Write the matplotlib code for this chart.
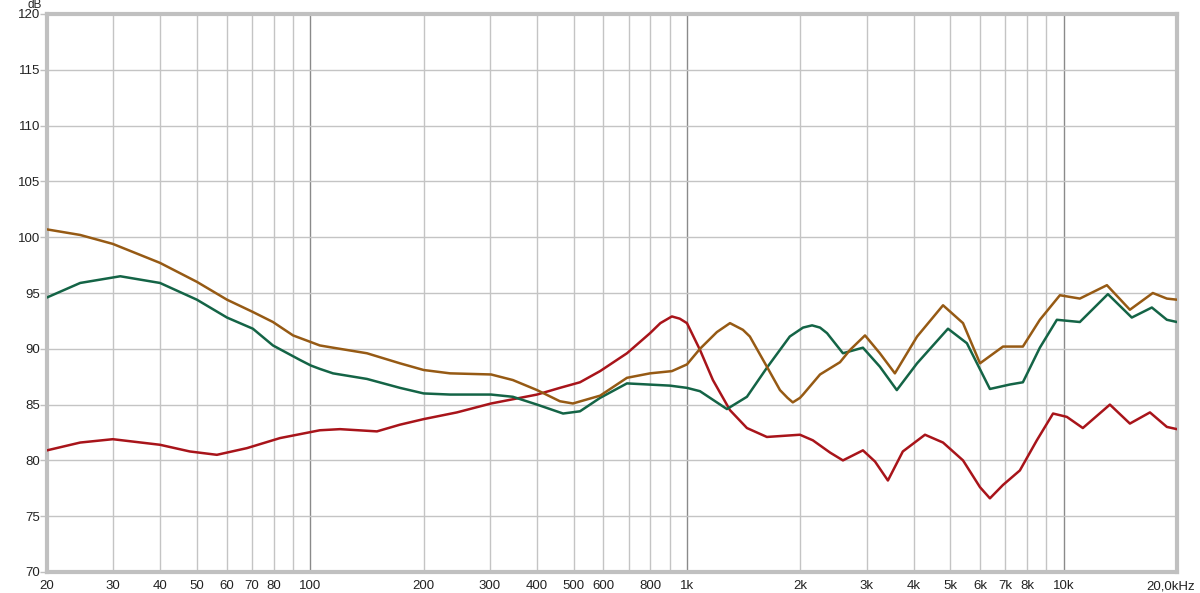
import matplotlib.pyplot as plt
import matplotlib.transforms as mtransforms
from matplotlib.ticker import FixedLocator, NullLocator

# frequency response readings (Hz, dB)
brown_freq = [20, 24.5, 29.9, 39.9, 50.0, 60.1, 70.4, 79.6, 90.0, 100.4, 106, 114.9, 141.4,
              173, 200, 235, 302, 345, 400, 460, 498, 588, 693, 798, 912, 1000, 1083, 1201,
              1301, 1408, 1469, 1630, 1766, 1850, 1910, 1995, 2033, 2256, 2549, 2710, 2970, 3252,
              3565, 4083, 4785, 5407, 5998, 6904, 7796, 8648, 9775, 11043, 13031, 14996, 17250,
              18800, 20000]
brown_db = [100.7, 100.2, 99.4, 97.7, 96.0, 94.4, 93.3, 92.4, 91.2, 90.6, 90.3, 90.1, 89.6,
            88.7, 88.1, 87.8, 87.7, 87.2, 86.3, 85.3, 85.1, 85.8, 87.4, 87.8, 88.0, 88.6, 90.0, 91.5,
            92.3, 91.7, 91.1, 88.4, 86.3, 85.6, 85.2, 85.6, 85.9, 87.7, 88.8, 89.9, 91.2, 89.6,
            87.8, 91.1, 93.9, 92.3, 88.7, 90.2, 90.2, 92.6, 94.8, 94.5, 95.7, 93.5, 95.0,
            94.5, 94.4]

green_freq = [20, 24.5, 31.3, 39.9, 50.0, 60.1, 70.4, 79.6, 93.9, 100.4, 106, 114.9, 141.4,
              173, 200, 235, 302, 345, 400, 469, 520, 588, 693, 901, 1000, 1083, 1277, 1443,
              1630, 1875, 2033, 2149, 2256, 2355, 2595, 2932, 3252, 3607, 4083, 4932, 5536, 6373,
              7200, 7796, 8648, 9596, 11043, 13110, 15170, 17150, 18800, 20000]
green_db = [94.6, 95.9, 96.5, 95.9, 94.4, 92.8, 91.8, 90.3, 89.0, 88.5, 88.2, 87.8, 87.3,
            86.5, 86.0, 85.9, 85.9, 85.7, 85.0, 84.2, 84.4, 85.6, 86.9, 86.7, 86.5, 86.2, 84.6, 85.7,
            88.3, 91.1, 91.9, 92.1, 91.9, 91.4, 89.6, 90.1, 88.4, 86.3, 88.7, 91.8, 90.5, 86.4,
            86.8, 87.0, 90.1, 92.6, 92.4, 94.9, 92.8, 93.7, 92.6, 92.4]

red_freq = [20, 24.5, 29.9, 39.9, 47.9, 56.5, 67.9, 83.1, 106, 119.9, 150.3, 173, 200, 245,
            302, 400, 460, 520, 588, 693, 798, 850, 912, 957, 1000, 1083, 1172, 1301, 1443, 1630,
            1995, 2159, 2399, 2595, 2932, 3157, 3416, 3742, 4285, 4785, 5407, 5998, 6373, 6904,
            7653, 8490, 9375, 10200, 11247, 13270, 14996, 16950, 18800, 20000]
red_db = [80.9, 81.6, 81.9, 81.4, 80.8, 80.5, 81.1, 82.0, 82.7, 82.8, 82.6, 83.2, 83.7, 84.3,
          85.1, 85.9, 86.5, 87.0, 88.0, 89.6, 91.4, 92.3, 92.9, 92.7, 92.3, 89.9, 87.2, 84.5, 82.9,
          82.1, 82.3, 81.8, 80.7, 80.0, 80.9, 79.9, 78.2, 80.8, 82.3, 81.6, 80.0, 77.6, 76.6, 77.8,
          79.1, 81.8, 84.2, 83.9, 82.9, 85.0, 83.3, 84.3, 83.0, 82.8]

x_ticks = [20, 30, 40, 50, 60, 70, 80, 100, 200, 300, 400, 500, 600, 800, 1000,
           2000, 3000, 4000, 5000, 6000, 7000, 8000, 10000, 20000]
x_labels = ['20', '30', '40', '50', '60', '70', '80', '100', '200', '300', '400', '500', '600',
            '800', '1k', '2k', '3k', '4k', '5k', '6k', '7k', '8k', '10k', '20,0kHz']
minor_grid = [20, 30, 40, 50, 60, 70, 80, 90, 200, 300, 400, 500, 600, 700, 800, 900,
              2000, 3000, 4000, 5000, 6000, 7000, 8000, 9000, 20000]
decade_grid = [100, 1000, 10000]
y_ticks = list(range(70, 121, 5))

plt.rcParams['font.family'] = ['Liberation Sans', 'DejaVu Sans']

fig = plt.figure(figsize=(12, 5.93), dpi=100)
ax = fig.add_axes([47 / 1200, 1 - 572 / 593, 1130 / 1200, 558 / 593])
ax.set_xscale('log')
ax.set_xlim(20, 20000)
ax.set_ylim(70, 120)

for f in minor_grid:
    ax.axvline(f, color='#c4c4c4', lw=1, zorder=1)
for f in decade_grid:
    ax.axvline(f, color='#8a8a8a', lw=1, zorder=1)
for y in y_ticks:
    ax.axhline(y, color='#c4c4c4', lw=1, zorder=1)

ax.plot(red_freq, red_db, color='#a8141a', lw=1.8, zorder=3)
ax.plot(green_freq, green_db, color='#146446', lw=1.8, zorder=3)
ax.plot(brown_freq, brown_db, color='#965a14', lw=1.8, zorder=3)

ax.xaxis.set_major_locator(FixedLocator(x_ticks))
ax.xaxis.set_minor_locator(NullLocator())
ax.set_xticklabels(x_labels)
ax.set_yticks(y_ticks)
ax.tick_params(axis='x', length=0, pad=6, labelsize=9.5, colors='#222222')
ax.tick_params(axis='y', length=5, width=1, color='#c0c0c0', pad=0, labelsize=9.5,
               labelcolor='#222222')

# last label sits a bit left of its tick, as in the original
last = ax.get_xticklabels()[-1]
last.set_transform(last.get_transform() + mtransforms.ScaledTranslation(-6 / 100, 0, fig.dpi_scale_trans))

for s in ax.spines.values():
    s.set_color('#c0c0c0')
    s.set_linewidth(3)

fig.text(35 / 1200, 1 - 8 / 593, 'dB', ha='center', va='baseline', fontsize=8.5, color='#222222')

fig.savefig('out.png', dpi=100)
